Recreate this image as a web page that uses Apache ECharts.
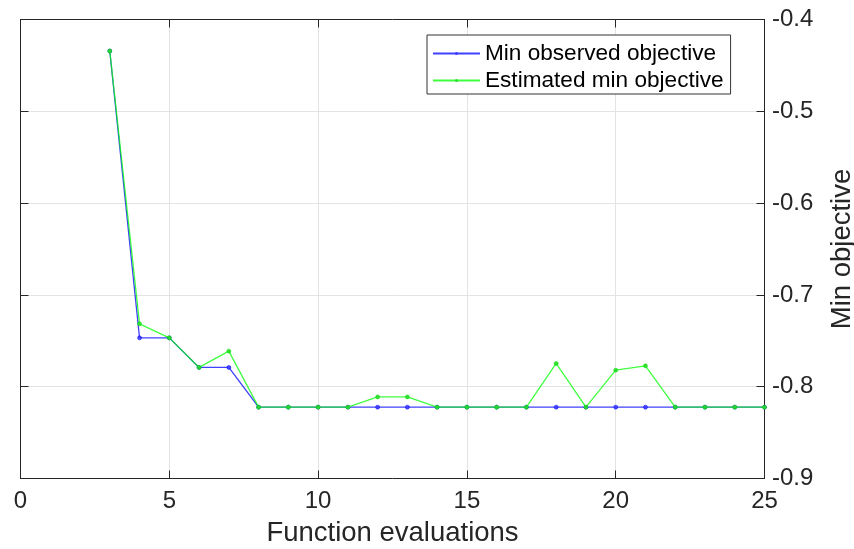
<!DOCTYPE html>
<html><head><meta charset="utf-8">
<script src="https://cdn.jsdelivr.net/npm/echarts@6/dist/echarts.min.js"></script>
<style>html,body{margin:0;padding:0;background:#fff}#c{width:854px;height:549px}</style>
</head><body><div id="c"></div>
<script>
const evaluations = [3,4,5,6,7,8,9,10,11,12,13,14,15,16,17,18,19,20,21,22,23,24,25];
const minObserved = [-0.4343,-0.7468,-0.7468,-0.7790,-0.7790,-0.8223,-0.8223,-0.8223,-0.8223,-0.8223,-0.8223,-0.8223,-0.8223,-0.8223,-0.8223,-0.8223,-0.8223,-0.8223,-0.8223,-0.8223,-0.8223,-0.8223,-0.8223];
const estimatedMin = [-0.4343,-0.7315,-0.7468,-0.7790,-0.7613,-0.8223,-0.8223,-0.8223,-0.8223,-0.8111,-0.8111,-0.8223,-0.8223,-0.8223,-0.8223,-0.7747,-0.8223,-0.7820,-0.7773,-0.8223,-0.8223,-0.8223,-0.8223];
const xTicks = [0,5,10,15,20,25];
const yTicks = [-0.4,-0.5,-0.6,-0.7,-0.8,-0.9];

const font = 'Liberation Sans, Arial, Helvetica, sans-serif';
const axisCol = '#262626';
const chart = echarts.init(document.getElementById('c'), null, {renderer:'canvas'});
const pairs = arr => evaluations.map((x,i)=>[x,arr[i]]);
chart.setOption({
  animation:false,
  backgroundColor:'#fff',
  grid:{left:20.5,right:89.5,top:19.5,bottom:70.5,containLabel:false,outerBoundsMode:'none'},
  legend:{
    left:427, top:35, orient:'vertical',
    data:['Min observed objective','Estimated min objective'],
    itemWidth:47, itemHeight:4, itemGap:0,
    itemStyle:{borderWidth:0},
    padding:[5,7,0,5],
    borderColor:'#333', borderWidth:1, backgroundColor:'#fff', borderRadius:0,
    textStyle:{fontFamily:font,fontSize:22.6,lineHeight:27,color:'#000'}
  },
  xAxis:[{
    type:'value', min:0, max:25, interval:5, position:'bottom',
    axisLine:{show:true,onZero:false,lineStyle:{color:axisCol,width:1}},
    axisTick:{show:true,inside:true,length:8,lineStyle:{color:axisCol}},
    axisLabel:{fontFamily:font,fontSize:24,color:axisCol,margin:11,formatter:v=>xTicks.includes(v)?String(v):''},
    splitLine:{show:true,lineStyle:{color:'#e3e3e3',width:1}},
    name:'Function evaluations', nameLocation:'middle', nameGap:41,
    nameTextStyle:{fontFamily:font,fontSize:27.5,color:axisCol}
  },{
    type:'value', min:0, max:25, interval:5, position:'top',
    axisLine:{show:true,onZero:false,lineStyle:{color:axisCol,width:1}},
    axisTick:{show:true,inside:true,length:8,lineStyle:{color:axisCol}},
    axisLabel:{show:false}, splitLine:{show:false}
  }],
  yAxis:[{
    type:'value', min:-0.9, max:-0.4, interval:0.1, position:'right',
    axisLine:{show:true,onZero:false,lineStyle:{color:axisCol,width:1}},
    axisTick:{show:true,inside:true,length:8,lineStyle:{color:axisCol}},
    axisLabel:{fontFamily:font,fontSize:24,color:axisCol,margin:7.5,
      formatter:v=>{const t=yTicks.find(k=>Math.abs(k-v)<1e-9);return t===undefined?'':t.toFixed(1);}},
    splitLine:{show:true,lineStyle:{color:'#e3e3e3',width:1}},
    name:'Min objective', nameLocation:'middle', nameGap:63.5, nameRotate:90,
    nameTextStyle:{fontFamily:font,fontSize:27.5,color:axisCol}
  },{
    type:'value', min:-0.9, max:-0.4, interval:0.1, position:'left',
    axisLine:{show:true,onZero:false,lineStyle:{color:axisCol,width:1}},
    axisTick:{show:true,inside:true,length:8,lineStyle:{color:axisCol}},
    axisLabel:{show:false}, splitLine:{show:false}
  }],
  series:[{
    name:'Min observed objective', type:'line', data:pairs(minObserved),
    symbol:'circle', symbolSize:4, showSymbol:true,
    lineStyle:{color:'rgba(0,0,255,0.75)',width:1.3},
    itemStyle:{color:'rgba(60,60,255,0.9)',borderColor:'#0000ff',borderWidth:0.5},
    z:2
  },{
    name:'Estimated min objective', type:'line', data:pairs(estimatedMin),
    symbol:'circle', symbolSize:4, showSymbol:true,
    lineStyle:{color:'rgba(0,255,0,0.75)',width:1.3},
    itemStyle:{color:'rgba(40,220,40,0.9)',borderColor:'#00dd00',borderWidth:0.5},
    z:3
  }]
});
</script></body></html>
